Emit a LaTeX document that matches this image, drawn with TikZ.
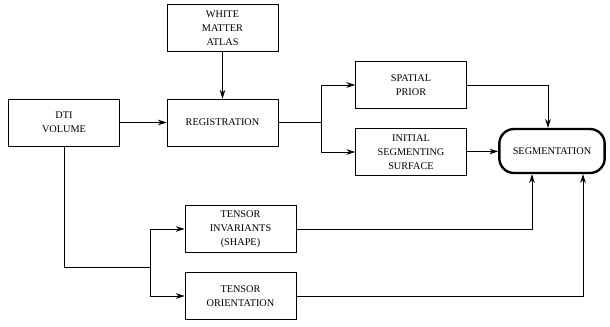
\documentclass[tikz,border=0pt]{standalone}
\usepackage{fontspec}
\setmainfont{Liberation Serif}
\usetikzlibrary{arrows.meta, positioning, calc}

\tikzset{
  block/.style={draw, line width=0.6pt, minimum width=83.25pt, minimum height=35.25pt,
    align=center, inner sep=1pt, font=\fontsize{7.7}{10.5}\selectfont},
  result/.style={draw, line width=1.8pt, rounded corners=11pt, minimum width=79pt,
    minimum height=33pt, align=center, font=\fontsize{7.7}{10.5}\selectfont},
  link/.style={line width=0.6pt},
}

\begin{document}
\begin{tikzpicture}[x=0.75pt, y=-0.75pt, >={Stealth[length=6.5pt, width=4.2pt]}]
  \useasboundingbox (0,0) rectangle (610,327);

  % input side
  \node[block] (atlas) at (222.5,28) {WHITE\\MATTER\\ATLAS};
  \node[block] (dti) at (64,122.5) {DTI\\VOLUME};
  \node[block] (reg) at (222.5,122.5) {REGISTRATION};

  % atlas-based branch
  \node[block] (prior) at (411,85) {SPATIAL\\PRIOR};
  \node[block] (init) at (411,152) {INITIAL\\SEGMENTING\\SURFACE};

  % tensor branch
  \node[block] (inv) at (240.5,229) {TENSOR\\INVARIANTS\\(SHAPE)};
  \node[block] (ori) at (240.5,296) {TENSOR\\ORIENTATION};

  % output
  \node[result] (seg) at (552,151) {SEGMENTATION};

  \coordinate (rsplit) at (321,122.5);
  \coordinate (tsplit) at (150,267);

  \draw[link, ->] (atlas) -- (reg);
  \draw[link, ->] (dti) -- (reg);
  \draw[link] (reg) -- (rsplit);
  \draw[link, ->] (rsplit) |- (prior);
  \draw[link, ->] (rsplit) |- (init);

  \draw[link] (dti.south) |- (tsplit);
  \draw[link, ->] (tsplit) |- (inv);
  \draw[link, ->] (tsplit) |- (ori);

  \draw[link, ->] (prior.east) -| ($(seg.north)+(-4,0)$);
  \draw[link, ->] (init) -- (seg);
  \draw[link, ->] (inv.east) -| ($(seg.south)+(-20,0)$);
  \draw[link, ->] (ori.east) -| ($(seg.south)+(31,0)$);
\end{tikzpicture}
\end{document}
